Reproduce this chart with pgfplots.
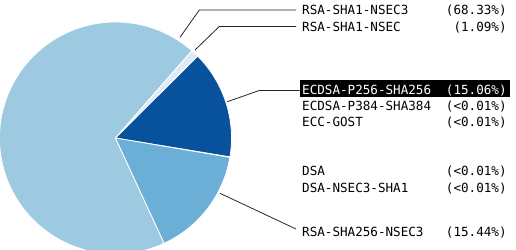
\documentclass[border=0pt]{standalone}
\usepackage{pgfplots}
\pgfplotsset{compat=1.18}
\usepackage{fontspec}
\newfontfamily\labelfont{DejaVu Sans Mono}
\definecolor{cBig}{HTML}{9ECAE1}
\definecolor{cNsec}{HTML}{DEEBF7}
\definecolor{cEcdsa}{HTML}{08519C}
\definecolor{cRsa}{HTML}{6BAED6}
% shares (percent)
\def\pA{68.33}% RSA-SHA1-NSEC3
\def\pB{1.09}%  RSA-SHA1-NSEC
\def\pC{15.06}% ECDSA-P256-SHA256
\def\pT{0.08}%  tiny slices
\def\pD{15.44}% RSA-SHA256-NSEC3
\def\th{48.8}%  start angle
\newcommand{\pieslice}[3]{%
  \filldraw[fill=#3, draw=white, line width=0.8bp]
    (axis cs:115.5,112) -- ++({#1}:116bp)
    arc[start angle={#1}, end angle={#2}, radius=116bp] -- cycle;}
\newcommand{\lab}[3]{%
  \node[anchor=base west, inner sep=0pt, font=\labelfont\fontsize{12.6bp}{15bp}\selectfont, text=#3] at (axis cs:302,#1) {#2};}
\newcommand{\pct}[3]{%
  \node[anchor=base east, inner sep=0pt, font=\labelfont\fontsize{12.6bp}{15bp}\selectfont, text=#3] at (axis cs:506.8,#1) {#2};}
\begin{document}
\begin{tikzpicture}
\begin{axis}[name=ax, width=516bp, height=250bp, scale only axis,
  xmin=0, xmax=516, ymin=0, ymax=250, hide axis, clip=true]
% pie slices (clockwise from \th)
\pieslice{\th-3.6*(\pB+\pC+\pT+\pD)}{\th-360}{cBig}
\pieslice{\th}{\th-3.6*\pB}{cNsec}
\pieslice{\th-3.6*\pB}{\th-3.6*(\pB+\pC)}{cEcdsa}
\pieslice{\th-3.6*(\pB+\pC+\pT)}{\th-3.6*(\pB+\pC+\pT+\pD)}{cRsa}
% leader lines
\addplot[black!85, line width=0.8bp] coordinates {(180,212.7) (199.3,240) (296,240)};
\addplot[black!85, line width=0.8bp] coordinates {(195,200) (219.3,223.5) (296,223.5)};
\addplot[black!85, line width=0.8bp] coordinates {(227.3,148.3) (259.3,159.5) (299.5,159.5)};
\addplot[black!85, line width=0.8bp] coordinates {(220,56.7) (296,21)};
% highlight box
\fill[black] (axis cs:299.5,152.5) rectangle (axis cs:510,170);
% labels
\lab{235.4}{RSA-SHA1-NSEC3}{black}
\pct{235.4}{(68.33\%)}{black}
\lab{218.9}{RSA-SHA1-NSEC}{black}
\pct{218.9}{(1.09\%)}{black}
\lab{155.9}{ECDSA-P256-SHA256}{white}
\pct{155.9}{(15.06\%)}{white}
\lab{139.9}{ECDSA-P384-SHA384}{black}
\pct{139.9}{(<0.01\%)}{black}
\lab{123.9}{ECC-GOST}{black}
\pct{123.9}{(<0.01\%)}{black}
\lab{74.4}{DSA}{black}
\pct{74.4}{(<0.01\%)}{black}
\lab{57.9}{DSA-NSEC3-SHA1}{black}
\pct{57.9}{(<0.01\%)}{black}
\lab{13.9}{RSA-SHA256-NSEC3}{black}
\pct{13.9}{(15.44\%)}{black}
\end{axis}
\pgfresetboundingbox
\path[use as bounding box] (ax.south west) rectangle (ax.north east);
\end{tikzpicture}
\end{document}
